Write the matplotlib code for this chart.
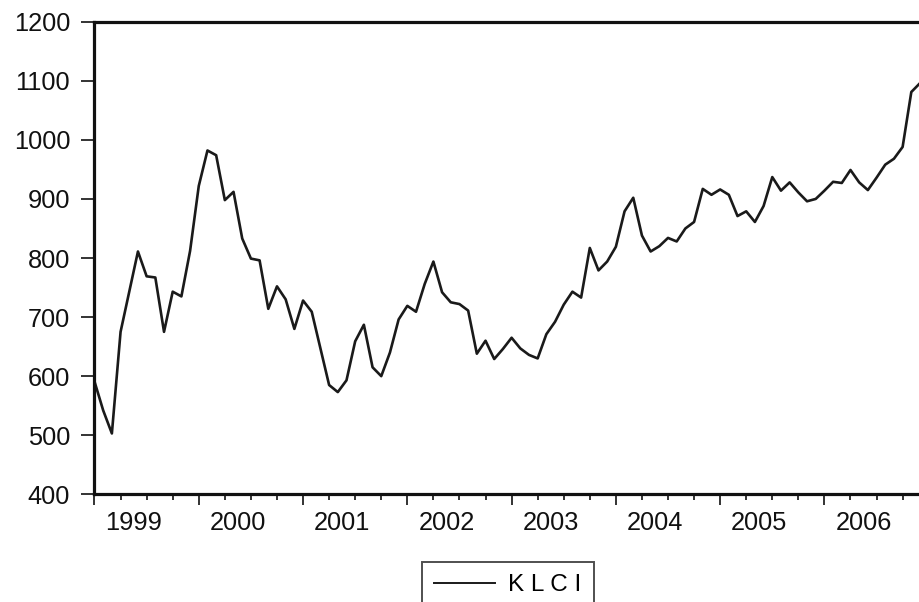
import numpy as np
import matplotlib
matplotlib.use('Agg')
import matplotlib.pyplot as plt
from matplotlib.lines import Line2D
import matplotlib.transforms as mtransforms

plt.rcParams['font.family'] = ['Liberation Sans', 'DejaVu Sans']

# monthly KLCI, Jan 1999 - Dec 2006
klci_1999 = [591, 542, 503, 675, 743, 811, 769, 767, 675, 743, 735, 812]
klci_2000 = [922, 982, 974, 898, 912, 833, 799, 796, 714, 752, 730, 680]
klci_2001 = [728, 709, 647, 585, 573, 593, 659, 687, 615, 600, 640, 696]
klci_2002 = [719, 709, 756, 794, 742, 725, 722, 711, 638, 660, 629, 646]
klci_2003 = [665, 647, 636, 630, 671, 692, 721, 743, 733, 817, 779, 794]
klci_2004 = [819, 879, 902, 838, 811, 820, 834, 828, 850, 861, 917, 907]
klci_2005 = [916, 907, 871, 879, 861, 888, 937, 914, 928, 911, 896, 900]
klci_2006 = [914, 929, 927, 949, 928, 915, 936, 958, 968, 988, 1081, 1096]
years = ['1999', '2000', '2001', '2002', '2003', '2004', '2005', '2006']

klci = klci_1999 + klci_2000 + klci_2001 + klci_2002 + klci_2003 + klci_2004 + klci_2005 + klci_2006
t = np.arange(len(klci))

fig = plt.figure(figsize=(9.2, 6.02), dpi=100)
ax = fig.add_axes([94.5/920, (602-494.3)/602, 1 - 94.5/920, (494.3-21.7)/602])

ax.plot(t, klci, color='#1a1a1a', lw=1.9)

ax.set_xlim(0, len(klci) - 1)
ax.set_ylim(400, 1200)
ax.set_yticks(range(400, 1201, 100))

for s in ['left', 'bottom', 'top']:
    ax.spines[s].set_linewidth(2.3)
    ax.spines[s].set_color('#111111')
ax.spines['right'].set_visible(False)

ax.set_xticks(np.arange(0, len(klci), 12))
ax.set_xticks(np.arange(0, len(klci), 3), minor=True)
ax.set_xticklabels([])
ax.tick_params(axis='x', which='major', length=8, width=1.4, color='#333333', direction='out')
ax.tick_params(axis='x', which='minor', length=4.3, width=1.4, color='#333333', direction='out')
ax.tick_params(axis='y', length=9.5, width=1.4, color='#333333', direction='out', pad=8,
               labelsize=18.3, labelcolor='#111111')

trans = mtransforms.blended_transform_factory(ax.transData, ax.transAxes)
for i, yr in enumerate(years):
    ax.text(12*i + 4.5, -0.036, yr, transform=trans, ha='center', va='top',
            fontsize=18.3, color='#111111')

h = Line2D([], [], color='#1a1a1a', lw=1.4)
leg = fig.legend([h], ['K L C I'], loc='upper left', bbox_to_anchor=(422/920, 1 - 562/602),
                 fontsize=17.5, frameon=True, fancybox=False, handlelength=2.5,
                 handletextpad=0.55, borderpad=0.5, borderaxespad=0)
leg.get_frame().set_edgecolor('#222222')
leg.get_frame().set_linewidth(1.4)

fig.savefig('out.png', dpi=100)
